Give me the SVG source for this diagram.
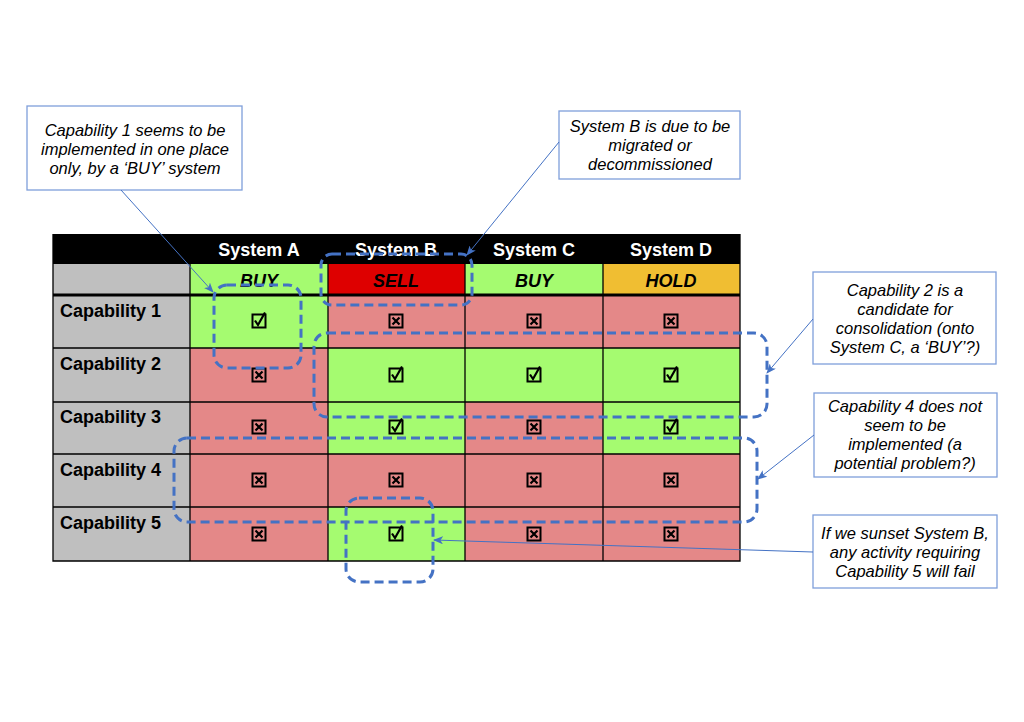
<svg xmlns="http://www.w3.org/2000/svg" width="1024" height="722" viewBox="0 0 1024 722">
<style>
.hdr{font-family:"Liberation Sans",Arial,sans-serif;font-weight:bold;font-size:18px;fill:#fff;text-anchor:middle}
.st{font-family:"Liberation Sans",Arial,sans-serif;font-weight:bold;font-style:italic;font-size:18px;fill:#000;text-anchor:middle}
.cap{font-family:"Liberation Sans",Arial,sans-serif;font-weight:bold;font-size:18px;fill:#000}
.note{font-family:"Liberation Sans",Arial,sans-serif;font-style:italic;font-size:16.5px;fill:#000;text-anchor:middle}
.box{fill:#fff;stroke:#7F9FDA;stroke-width:1.3}
.grn{fill:#A5FB70}
.red{fill:#E48888}
.gry{fill:#BFBFBF}
.grid{stroke:#000;stroke-width:1.3;fill:none}
.dash{fill:none;stroke:#4472C4;stroke-width:3;stroke-dasharray:9 5}
.con{stroke:#4472C4;stroke-width:1;fill:none;marker-end:url(#ah)}
</style>
<defs>
<marker id="ah" viewBox="0 0 10 8" refX="9" refY="4" markerWidth="10" markerHeight="8" markerUnits="userSpaceOnUse" orient="auto">
<path d="M0,0 L10,4 L0,8 L2.5,4 z" fill="#4472C4"/>
</marker>
<g id="chk">
<rect x="-6.5" y="-6.5" width="13" height="13" fill="none" stroke="#000" stroke-width="2"/>
<path d="M-4,-0.5 L-1,4 L6,-8.5" fill="none" stroke="#000" stroke-width="2.2"/>
</g>
<g id="crs">
<rect x="-6.5" y="-6.5" width="13" height="13" fill="none" stroke="#000" stroke-width="2"/>
<path d="M-3.5,-3.5 L3.5,3.5 M3.5,-3.5 L-3.5,3.5" fill="none" stroke="#000" stroke-width="2.2"/>
</g>
</defs>
<rect width="1024" height="722" fill="#fff"/>

<g id="table">
<rect x="53" y="234" width="687" height="30" fill="#000"/>
<rect class="gry" x="53" y="264" width="137" height="297"/>
<rect class="grn" x="190" y="264" width="138" height="31"/>
<rect x="328" y="264" width="137" height="31" fill="#DE0000"/>
<rect class="grn" x="465" y="264" width="138" height="31"/>
<rect x="603" y="264" width="137" height="31" fill="#F0BE32"/>
<!-- row 1 -->
<rect class="grn" x="190" y="295" width="138" height="53"/>
<rect class="red" x="328" y="295" width="412" height="53"/>
<!-- row 2 -->
<rect class="red" x="190" y="348" width="138" height="54"/>
<rect class="grn" x="328" y="348" width="412" height="54"/>
<!-- row 3 -->
<rect class="red" x="190" y="402" width="138" height="52"/>
<rect class="grn" x="328" y="402" width="137" height="52"/>
<rect class="red" x="465" y="402" width="138" height="52"/>
<rect class="grn" x="603" y="402" width="137" height="52"/>
<!-- row 4 -->
<rect class="red" x="190" y="454" width="550" height="53"/>
<!-- row 5 -->
<rect class="red" x="190" y="507" width="138" height="54"/>
<rect class="grn" x="328" y="507" width="137" height="54"/>
<rect class="red" x="465" y="507" width="275" height="54"/>
<!-- grid -->
<path class="grid" d="M53,234 V561 H740 V234 M190,264 V561 M328,264 V561 M465,264 V561 M603,264 V561 M53,348 H740 M53,402 H740 M53,454 H740 M53,507 H740"/>
<line x1="53" y1="295" x2="740" y2="295" stroke="#000" stroke-width="3"/>
<text class="hdr" x="259" y="256">System A</text>
<text class="hdr" x="396" y="256">System B</text>
<text class="hdr" x="534" y="256">System C</text>
<text class="hdr" x="671" y="256">System D</text>
<text class="st" x="259" y="287">BUY</text>
<text class="st" x="396" y="287">SELL</text>
<text class="st" x="534" y="287">BUY</text>
<text class="st" x="671" y="287">HOLD</text>
<text class="cap" x="60" y="317">Capability 1</text>
<text class="cap" x="60" y="370">Capability 2</text>
<text class="cap" x="60" y="423">Capability 3</text>
<text class="cap" x="60" y="476">Capability 4</text>
<text class="cap" x="60" y="529">Capability 5</text>
<use href="#chk" x="259" y="321"/>
<use href="#crs" x="396" y="321"/>
<use href="#crs" x="534" y="321"/>
<use href="#crs" x="671" y="321"/>
<use href="#crs" x="259" y="375"/>
<use href="#chk" x="396" y="375"/>
<use href="#chk" x="534" y="375"/>
<use href="#chk" x="671" y="375"/>
<use href="#crs" x="259" y="427"/>
<use href="#chk" x="396" y="427"/>
<use href="#crs" x="534" y="427"/>
<use href="#chk" x="671" y="427"/>
<use href="#crs" x="259" y="480"/>
<use href="#crs" x="396" y="480"/>
<use href="#crs" x="534" y="480"/>
<use href="#crs" x="671" y="480"/>
<use href="#crs" x="259" y="534"/>
<use href="#chk" x="396" y="534"/>
<use href="#crs" x="534" y="534"/>
<use href="#crs" x="671" y="534"/>
</g>

<g id="highlights">
<rect class="dash" x="214" y="285" width="87" height="83" rx="13"/>
<rect class="dash" x="321" y="254" width="151" height="51" rx="11"/>
<rect class="dash" x="314" y="333" width="453" height="84" rx="13"/>
<rect class="dash" x="174" y="438" width="583" height="84" rx="13"/>
<rect class="dash" x="346" y="498" width="87" height="84" rx="13"/>
</g>

<g id="note1">
<rect class="box" x="27" y="106" width="215" height="84"/>
<text class="note" x="135" y="136">Capability 1 seems to be</text>
<text class="note" x="135" y="155">implemented in one place</text>
<text class="note" x="135" y="174">only, by a ‘BUY’ system</text>
</g>
<g id="note2">
<rect class="box" x="559" y="111" width="181" height="68"/>
<text class="note" x="650" y="132">System B is due to be</text>
<text class="note" x="650" y="151">migrated or</text>
<text class="note" x="650" y="170">decommissioned</text>
</g>
<g id="note3">
<rect class="box" x="813" y="272" width="183" height="92"/>
<text class="note" x="905" y="296">Capability 2 is a</text>
<text class="note" x="905" y="315">candidate for</text>
<text class="note" x="905" y="334">consolidation (onto</text>
<text class="note" x="905" y="353">System C, a ‘BUY’?)</text>
</g>
<g id="note4">
<rect class="box" x="814" y="393" width="183" height="84"/>
<text class="note" x="905" y="412">Capability 4 does not</text>
<text class="note" x="905" y="431">seem to be</text>
<text class="note" x="905" y="450">implemented (a</text>
<text class="note" x="905" y="469">potential problem?)</text>
</g>
<g id="note5">
<rect class="box" x="813" y="515" width="184" height="73"/>
<text class="note" x="905" y="539">If we sunset System B,</text>
<text class="note" x="905" y="558">any activity requiring</text>
<text class="note" x="905" y="577">Capability 5 will fail</text>
</g>

<g id="connectors">
<line class="con" x1="121" y1="190" x2="213" y2="292"/>
<line class="con" x1="559" y1="142" x2="467" y2="255"/>
<line class="con" x1="813" y1="319" x2="767" y2="373"/>
<line class="con" x1="814" y1="435" x2="758" y2="479"/>
<line class="con" x1="813" y1="552" x2="434" y2="540"/>
</g>
</svg>
